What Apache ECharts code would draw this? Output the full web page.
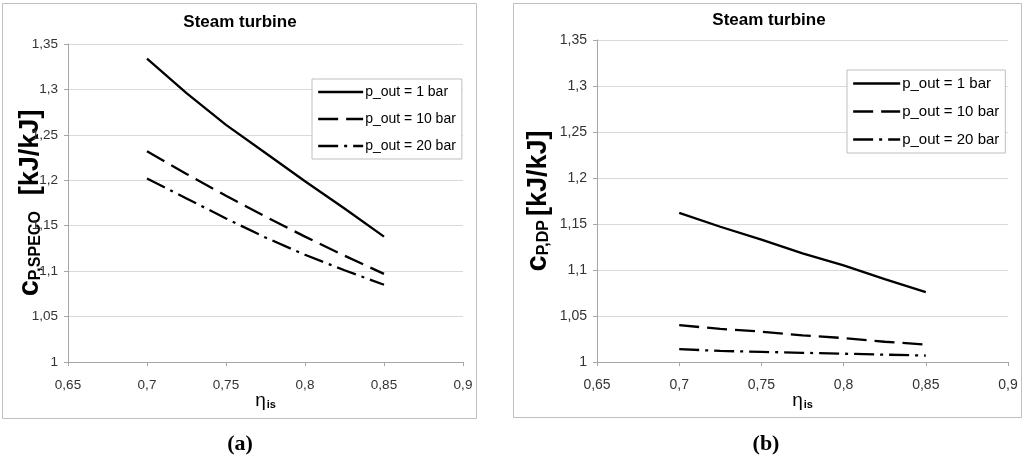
<!DOCTYPE html>
<html>
<head>
<meta charset="utf-8">
<script src="https://cdn.jsdelivr.net/npm/echarts@6/dist/echarts.min.js"></script>
<style>
html,body{margin:0;padding:0;background:#fff;}
#chart{width:1024px;height:465px;}
</style>
</head>
<body>
<div id="chart"></div>
<script>
// ---- data ----
const etaValues = [0.7, 0.725, 0.75, 0.775, 0.8, 0.825, 0.85];
const seriesNames = ['p_out = 1 bar', 'p_out = 10 bar', 'p_out = 20 bar'];
// (a) c_P,SPECO
const specoOut1 = [1.334, 1.296, 1.261, 1.230, 1.199, 1.169, 1.138];
const specoOut10 = [1.232, 1.207, 1.183, 1.160, 1.138, 1.117, 1.097];
const specoOut20 = [1.202, 1.180, 1.158, 1.137, 1.118, 1.101, 1.085];
// (b) c_P,DP
const dpOut1 = [1.162, 1.147, 1.133, 1.118, 1.105, 1.090, 1.076];
const dpOut10 = [1.040, 1.036, 1.033, 1.029, 1.026, 1.022, 1.019];
const dpOut20 = [1.014, 1.012, 1.011, 1.010, 1.009, 1.008, 1.007];
const chartTitle = 'Steam turbine';
const panelLabels = ['(a)', '(b)'];

// ---- styling ----
const FONT = '"Liberation Sans", Arial, sans-serif';
const dashTypes = ['solid', [20, 8], [20, 6, 3, 6]];
const fmt = v => String(+(+v).toFixed(3)).replace('.', ',');
const pairs = ys => etaValues.map((x, i) => [x, ys[i]]);

function mkSeries(dataArr, gi) {
  return dataArr.map((d, i) => ({
    name: seriesNames[i],
    type: 'line',
    xAxisIndex: gi, yAxisIndex: gi,
    data: pairs(d),
    symbol: 'none', showSymbol: false, smooth: false,
    lineStyle: { color: '#000', width: 2.3, type: dashTypes[i] },
    itemStyle: { color: '#000' },
    emphasis: { disabled: true },
    animation: false
  }));
}

function xAx(gi, fs) {
  return {
    type: 'value', gridIndex: gi, min: 0.65, max: 0.9, interval: 0.05,
    axisLine: { show: true, lineStyle: { color: '#a6a6a6', width: 1 } },
    axisTick: { show: true, length: 4, lineStyle: { color: '#a6a6a6' } },
    axisLabel: { formatter: fmt, color: '#333', fontSize: fs, fontFamily: FONT, margin: 16 },
    splitLine: { show: false },
    name: '{e|η}{s|is}', nameLocation: 'middle', nameGap: 29, nameMoveOverlap: false,
    nameTextStyle: {
      rich: {
        e: { fontSize: 19, fontFamily: FONT, color: '#000', verticalAlign: 'bottom' },
        s: { fontSize: 11, fontWeight: 'bold', fontFamily: FONT, color: '#000', verticalAlign: 'bottom', lineHeight: 12, padding: [0, 0, 0, 1] }
      }
    }
  };
}

function yAx(gi, fs, sub, gap, subGap) {
  return {
    type: 'value', gridIndex: gi, min: 1, max: 1.35, interval: 0.05,
    axisLine: { show: true, lineStyle: { color: '#a6a6a6', width: 1 } },
    axisTick: { show: true, length: 4, lineStyle: { color: '#a6a6a6' } },
    axisLabel: { formatter: fmt, color: '#333', fontSize: fs, fontFamily: FONT, margin: 10 },
    splitLine: { show: true, lineStyle: { color: '#d9d9d9', width: 1 } },
    name: '{c|c}{s|' + sub + '}{u|[kJ/kJ]}', nameLocation: 'middle', nameGap: gap, nameRotate: 90,
    nameMoveOverlap: false,
    nameTextStyle: {
      rich: {
        c: { fontSize: 29, fontWeight: 'bold', fontFamily: FONT, color: '#000', verticalAlign: 'bottom' },
        s: { fontSize: 16, fontWeight: 'bold', fontFamily: FONT, color: '#000', verticalAlign: 'bottom', lineHeight: 12 },
        u: { fontSize: 27, fontWeight: 'bold', fontFamily: FONT, color: '#000', verticalAlign: 'bottom', padding: [0, 0, 0, subGap] }
      }
    }
  };
}

function legendFor(left, top, fs, iw) {
  return {
    show: true,
    orient: 'vertical', left: left, top: top,
    data: seriesNames.map((n, i) => ({
      name: n,
      itemStyle: { opacity: 0 },
      lineStyle: { color: '#000', width: 2.3, type: dashTypes[i], opacity: 1 }
    })),
    itemWidth: iw, itemHeight: 14, itemGap: 13,
    padding: [6, 6, 6, 5],
    borderColor: '#bfbfbf', borderWidth: 1, borderRadius: 0,
    backgroundColor: '#fff',
    textStyle: { fontSize: fs, fontFamily: FONT, color: '#000', padding: [0, 0, 0, -3] },
    selectedMode: false
  };
}

const chart = echarts.init(document.getElementById('chart'), null, { renderer: 'canvas' });
const option = {
  animation: false,
  backgroundColor: '#fff',
  textStyle: { fontFamily: FONT },
  grid: [
    { left: 68, top: 44, width: 395, height: 318, containLabel: false },
    { left: 597, top: 40, width: 411, height: 322, containLabel: false }
  ],
  xAxis: [xAx(0, 13.5), xAx(1, 14)],
  yAxis: [yAx(0, 13.5, 'P,SPECO', 24, 16), yAx(1, 14, 'P,DP', 45, 4)],
  legend: [legendFor(312, 79, 14, 45), legendFor(847, 70, 15, 47)],
  series: [].concat(mkSeries([specoOut1, specoOut10, specoOut20], 0),
                    mkSeries([dpOut1, dpOut10, dpOut20], 1)),
  graphic: [
    { type: 'rect', shape: { x: 2.5, y: 3.5, width: 474, height: 415 }, style: { fill: 'none', stroke: '#bfbfbf', lineWidth: 1 }, z: -1 },
    { type: 'rect', shape: { x: 513.5, y: 3.5, width: 508, height: 414 }, style: { fill: 'none', stroke: '#bfbfbf', lineWidth: 1 }, z: -1 },
    { type: 'text', x: 240, y: 22, style: { text: chartTitle, font: 'bold 17px ' + FONT, fill: '#000', textAlign: 'center', textVerticalAlign: 'middle' } },
    { type: 'text', x: 769, y: 20, style: { text: chartTitle, font: 'bold 17px ' + FONT, fill: '#000', textAlign: 'center', textVerticalAlign: 'middle' } },
    { type: 'text', x: 240, y: 444, style: { text: panelLabels[0], font: 'bold 22px "Liberation Serif", "Times New Roman", serif', fill: '#000', textAlign: 'center', textVerticalAlign: 'middle' } },
    { type: 'text', x: 766, y: 444, style: { text: panelLabels[1], font: 'bold 22px "Liberation Serif", "Times New Roman", serif', fill: '#000', textAlign: 'center', textVerticalAlign: 'middle' } }
  ]
};
chart.setOption(option);
</script>
</body>
</html>
